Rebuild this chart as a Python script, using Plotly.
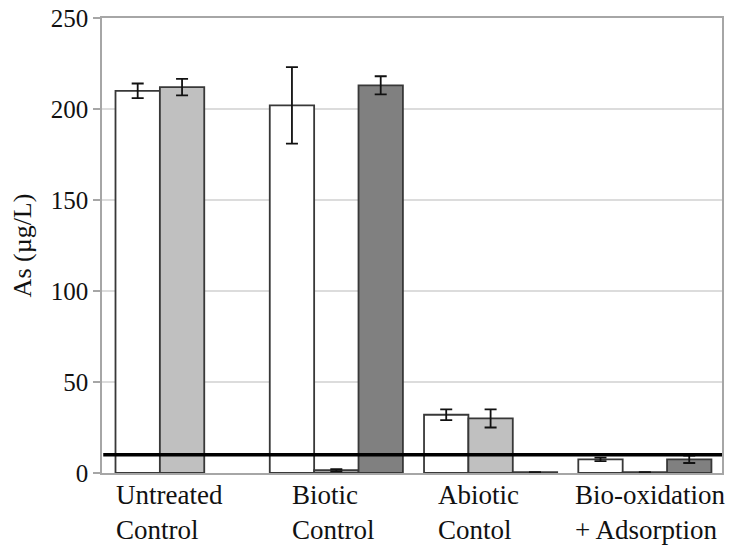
import plotly.graph_objects as go

categories = ["Untreated<br>Control", "Biotic<br>Control", "Abiotic<br>Contol", "Bio-oxidation<br>+ Adsorption"]
series_names = ["Series 1", "Series 2", "Series 3"]
white_vals = [210, 202, 32, 7.5]
white_err = [4, 21, 3, 1]
light_vals = [212, 1.5, 30, 0.5]
light_err = [4.5, 0.6, 5, 0]
dark_vals = [None, 213, 0.5, 7.5]
dark_err = [0, 5, 0, 2]
limit_value = 10
label_shift = [-13, -3, -12, 5]

x_idx = list(range(len(categories)))
colors = ["#ffffff", "#c0c0c0", "#808080"]
vals = [white_vals, light_vals, dark_vals]
errs = [white_err, light_err, dark_err]

fig = go.Figure()
for name, v, e, c in zip(series_names, vals, errs, colors):
    fig.add_trace(go.Bar(
        x=x_idx, y=v, name=name,
        marker=dict(color=c, line=dict(color="#383838", width=1.8)),
        error_y=dict(type="data", array=e, visible=True, color="#111111", thickness=1.8, width=6),
    ))

fig.add_shape(type="line", xref="paper", yref="y", x0=0.002, x1=1, y0=limit_value, y1=limit_value,
              line=dict(color="#000000", width=3.5))

for i, (cat, sh) in enumerate(zip(categories, label_shift)):
    fig.add_annotation(x=i, y=0, xref="x", yref="paper", text=cat, showarrow=False,
                       xanchor="center", yanchor="top", align="left", xshift=sh, yshift=-5,
                       font=dict(family="Liberation Serif", size=27, color="#111111"))

fig.update_layout(
    width=730, height=545,
    margin=dict(l=102, r=8, t=18, b=72),
    paper_bgcolor="white", plot_bgcolor="white",
    barmode="group", bargap=0.137, bargroupgap=0,
    showlegend=False,
    font=dict(family="Liberation Serif", size=26, color="#111111"),
)
fig.update_xaxes(range=[-0.519, 3.5], showticklabels=False, ticks="", automargin=False,
                 showline=True, mirror=True, linecolor="#a6a6a6", linewidth=1.6,
                 showgrid=False, zeroline=False)
fig.update_yaxes(range=[0, 250], tickvals=[0, 50, 100, 150, 200, 250], automargin=False,
                 ticks="outside", ticklen=7, tickcolor="#a6a6a6", tickwidth=1.6,
                 showline=True, mirror=True, linecolor="#a6a6a6", linewidth=1.6,
                 showgrid=True, gridcolor="#dcdcdc", gridwidth=1.6, zeroline=False,
                 ticklabeloverflow="allow",
                 title=dict(text="As (µg/L)", standoff=12, font=dict(size=26)),
                 tickfont=dict(size=25))

fig.write_html("out.html", config={"displayModeBar": False},
               post_script="document.body.style.margin='0';document.body.style.overflow='hidden';")
